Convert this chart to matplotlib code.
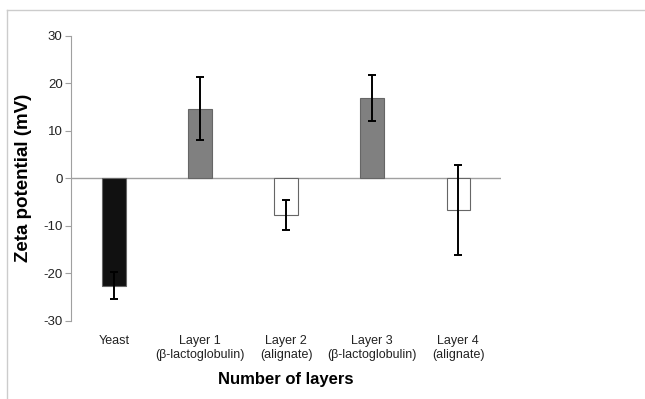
import matplotlib.pyplot as plt
from matplotlib.lines import Line2D

# zeta potential per layer
labels = ["Yeast", "Layer 1\n(\u03b2-lactoglobulin)", "Layer 2\n(alignate)",
          "Layer 3\n(\u03b2-lactoglobulin)", "Layer 4\n(alignate)"]
zeta = [-22.6, 14.7, -7.7, 16.9, -6.6]
errors = [2.8, 6.7, 3.1, 4.8, 9.5]
colors = ["#111111", "#808080", "#ffffff", "#808080", "#ffffff"]

plt.rcParams["font.family"] = ["Liberation Sans", "DejaVu Sans"]
plt.rcParams["axes.unicode_minus"] = False

fig = plt.figure(figsize=(6.45, 3.99), dpi=100)
ax = fig.add_axes([0.110, 0.196, 0.667, 0.714])

x = range(len(zeta))
ax.bar(x, zeta, width=0.27, color=colors, edgecolor="#666666", linewidth=0.8, zorder=2)
ax.errorbar(x, zeta, yerr=errors, fmt="none", ecolor="black", elinewidth=1.4,
            capsize=3.2, capthick=1.4, zorder=3)

ax.axhline(0, color="#a0a0a0", linewidth=1, zorder=1)
ax.set_xlim(-0.5, 4.5)
ax.set_ylim(-30, 30)
ax.set_yticks([-30, -20, -10, 0, 10, 20, 30])

for s in ["top", "right", "bottom"]:
    ax.spines[s].set_visible(False)
ax.spines["left"].set_color("#a0a0a0")

ax.set_xticks(list(x))
ax.set_xticklabels(labels, fontsize=9, color="#222222", linespacing=1.3)
ax.tick_params(axis="x", length=0, pad=10)
ax.tick_params(axis="y", direction="out", length=4, color="#a0a0a0",
               labelsize=9.5, labelcolor="#222222", pad=2)

ax.set_ylabel("Zeta potential (mV)", fontsize=13.5, fontweight="bold", labelpad=8)
ax.set_xlabel("Number of layers", fontsize=12, fontweight="bold", labelpad=8)

# light frame (top and left edges) around the figure
fig.add_artist(Line2D([7 / 645, 1], [1 - 10 / 399, 1 - 10 / 399],
                      transform=fig.transFigure, color="#cccccc", linewidth=1))
fig.add_artist(Line2D([7 / 645, 7 / 645], [0, 1 - 10 / 399],
                      transform=fig.transFigure, color="#cccccc", linewidth=1))

fig.savefig("out.png", dpi=100)
